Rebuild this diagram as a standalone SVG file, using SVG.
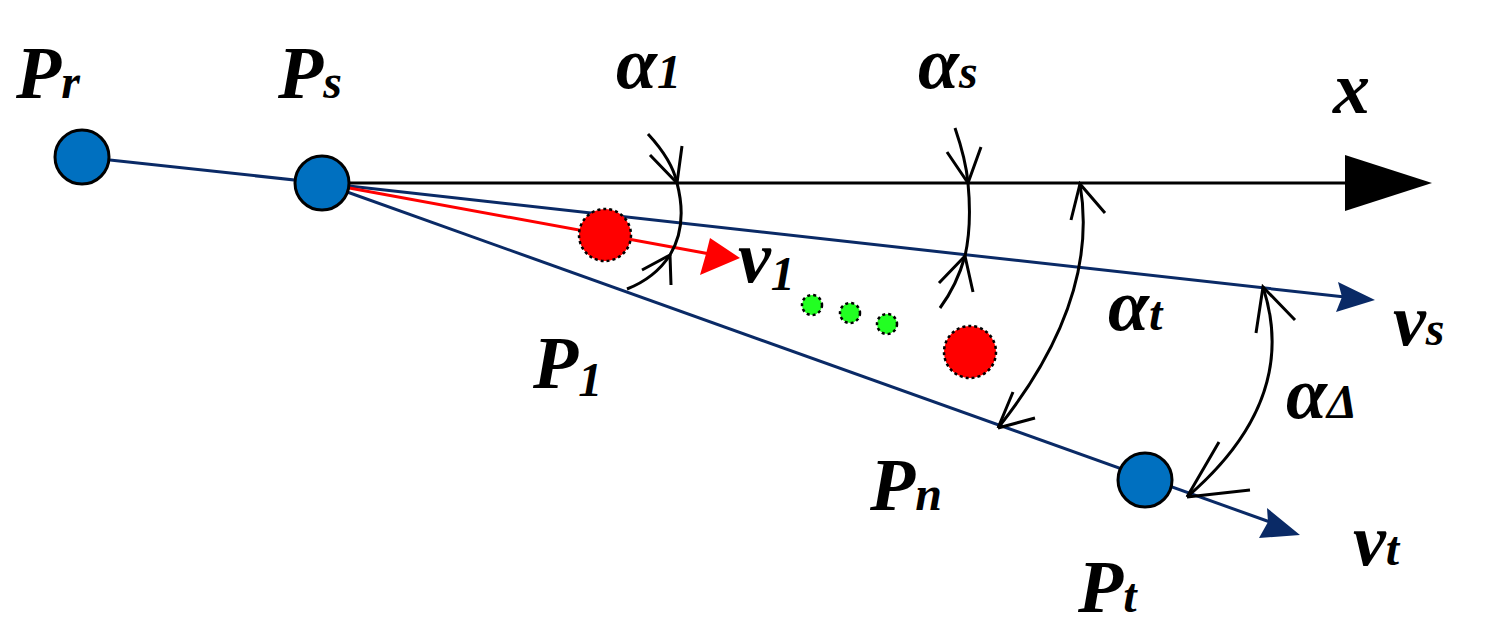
<svg xmlns="http://www.w3.org/2000/svg" width="1485" height="639" viewBox="0 0 1485 639">
<style>
.t{font-family:"Liberation Serif",serif;font-weight:bold;font-style:italic;font-size:74px;fill:#000}
.s{font-size:48px}
.b{stroke:#0a2a66;stroke-width:3;fill:none}
.k{stroke:#000;stroke-width:3;fill:none}
.n{fill:#0070c0;stroke:#000;stroke-width:3}
.r{fill:#ff0000;stroke:#000;stroke-width:2.5;stroke-dasharray:3 3}
.g{fill:#22ff22;stroke:#000;stroke-width:2.5;stroke-dasharray:3 3}
</style>
<rect width="1485" height="639" fill="#fff"/>
<g id="connectors">
<line class="b" x1="82" y1="157" x2="322" y2="183"/>
<line class="b" x1="322" y1="183" x2="1345" y2="297"/>
<polygon points="1375,300 1336,312 1342,297 1338,282" fill="#0a2a66"/>
<line class="b" x1="322" y1="183" x2="1270" y2="522"/>
<polygon points="1300,535 1259,538 1268,522 1267,508" fill="#0a2a66"/>
<line class="k" x1="322" y1="183" x2="1360" y2="183" stroke-width="4"/>
<polygon points="1432,183 1345,155 1345,211" fill="#000"/>
<line x1="322" y1="183" x2="710" y2="254" stroke="#f00" stroke-width="3"/>
<polygon points="740,258 700,275 706,254 710,238" fill="#f00"/>
<path class="k" d="M648,134 Q672,160 677,183 Q688,225 670,255 Q655,278 627,289"/>
<path class="k" d="M650,155 L677,183 L682,146 M670,255 L642,270 M670,255 L671,285"/>
<path class="k" d="M955,128 Q966,160 968,183 Q972,225 965,256 Q957,285 940,308"/>
<path class="k" d="M947,152 L968,183 L981,147 M965,256 L939,283 M965,256 L973,292"/>
<path class="k" d="M1080,184 Q1100,300 998,428"/>
<path class="k" d="M1071,220 L1080,184 L1105,213 M998,428 L1013,392 M998,428 L1035,418"/>
<path class="k" d="M1263,287 Q1300,400 1187,497"/>
<path class="k" d="M1256,333 L1263,287 L1295,320 M1187,497 L1219,442 M1187,497 L1250,490"/>
</g>
<g id="Pr"><circle class="n" cx="82" cy="157" r="27"/><text class="t" x="16" y="98">P<tspan class="s" dy="0">r</tspan></text></g>
<g id="Ps"><circle class="n" cx="322" cy="183" r="27"/><text class="t" x="278" y="98">P<tspan class="s" dy="0">s</tspan></text></g>
<g id="P1"><circle class="r" cx="605" cy="235" r="26"/><text class="t" x="533" y="388">P<tspan class="s" dy="8">1</tspan></text></g>
<g id="Pn"><circle class="r" cx="970" cy="352" r="26"/><text class="t" x="870" y="510">P<tspan class="s" dy="0">n</tspan></text></g>
<g id="dots"><circle class="g" cx="812" cy="305" r="10"/><circle class="g" cx="850" cy="313" r="10"/><circle class="g" cx="887" cy="324" r="10"/></g>
<g id="Pt"><circle class="n" cx="1145" cy="480" r="27"/><text class="t" x="1078" y="612">P<tspan class="s" dy="0">t</tspan></text></g>
<g id="labels">
<text class="t" x="616" y="88">α<tspan class="s" dy="0">1</tspan></text>
<text class="t" x="918" y="88">α<tspan class="s" dy="0">s</tspan></text>
<text class="t" x="1333" y="113">x</text>
<text class="t" x="738" y="282">v<tspan class="s" dy="8">1</tspan></text>
<text class="t" x="1393" y="345">v<tspan class="s" dy="0">s</tspan></text>
<text class="t" x="1108" y="330">α<tspan class="s" dy="0">t</tspan></text>
<text class="t" x="1286" y="418">α<tspan class="s" dy="0">Δ</tspan></text>
<text class="t" x="1353" y="565">v<tspan class="s" dy="0">t</tspan></text>
</g>
</svg>
